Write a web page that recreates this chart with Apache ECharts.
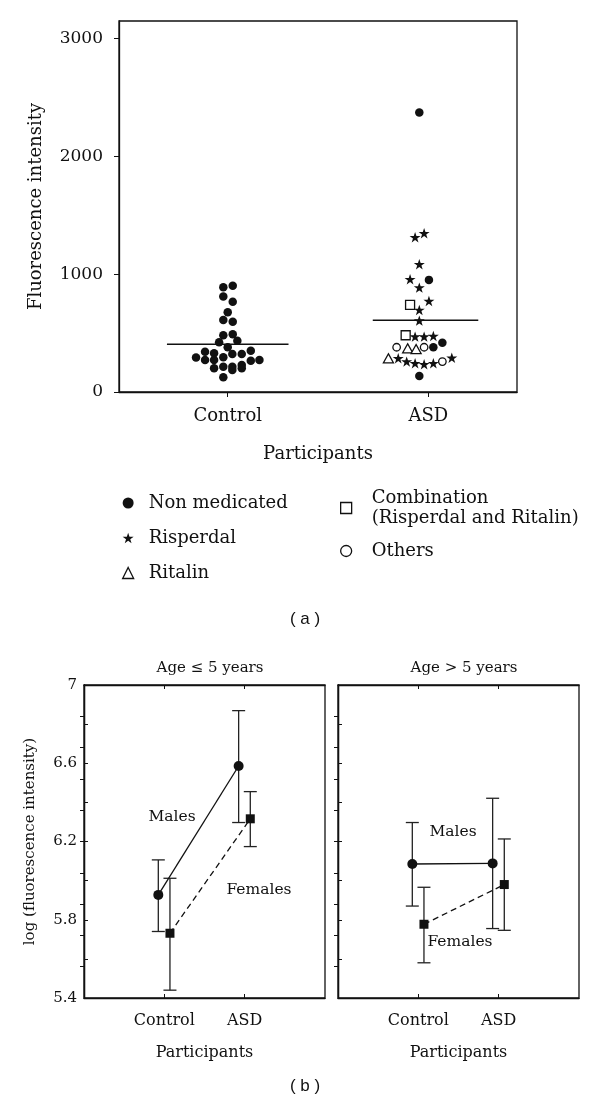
<!DOCTYPE html>
<html><head><meta charset="utf-8">
<script src="https://cdn.jsdelivr.net/npm/echarts@6/dist/echarts.min.js"></script>
<style>html,body{margin:0;padding:0;background:#fff}#c{width:600px;height:1106px}</style>
</head><body><div id="c"></div>
<script>
// ---------------- DATA ----------------
const categories = ['Control', 'ASD'];
const yTicksA = [0, 1000, 2000, 3000];

// Panel (a): Control group (all non medicated), values and beeswarm jitter (category units)
const controlValues = [903, 890, 810, 767, 677, 612, 597, 490, 482, 436, 422, 380,
  342, 328, 323, 323, 351, 292, 272, 272, 295, 266, 272, 201, 215, 215, 187, 229, 201, 125];
const controlJitter = [0.025, -0.022, -0.022, 0.025, 0, -0.022, 0.025, 0.025, -0.022, 0.048, -0.043, 0,
  -0.113, -0.068, 0.023, 0.070, 0.115, -0.158, -0.113, -0.068, -0.022, 0.115, 0.158,
  -0.068, -0.022, 0.023, 0.023, 0.070, 0.070, -0.022];

// Panel (a): ASD group by medication
const nonMedValues = [2373, 952, 419, 380, 136];
const nonMedJitter = [-0.045, 0.003, 0.070, 0.025, -0.045];
const risperdalValues = [1348, 1314, 1085, 957, 886, 773, 697, 606, 476, 470, 470, 291, 286, 258, 244, 244, 235];
const risperdalJitter = [-0.021, -0.066, -0.045, -0.091, -0.045, 0.003, -0.045, -0.045, 0.025, -0.021, -0.066, 0.117, -0.150, -0.108, -0.066, 0.025, -0.021];
const ritalinValues = [371, 365, 286];
const ritalinJitter = [-0.103, -0.061, -0.199];
const combinationValues = [739, 482];
const combinationJitter = [-0.091, -0.113];
const othersValues = [380, 380, 258];
const othersJitter = [-0.158, -0.021, 0.070];

const meanValues = [405, 609]; // Control, ASD

// Panel (b): log(fluorescence intensity), mean and error-bar limits [Control, ASD]
const yTicksB = [5.4, 5.8, 6.2, 6.6, 7];
const rightTicksB = [5.56, 5.72, 5.88, 6.04, 6.2, 6.36, 6.52, 6.68, 6.84];
const youngMalesMean = [5.927, 6.586];
const youngMalesLow = [5.74, 6.297];
const youngMalesHigh = [6.106, 6.869];
const youngFemalesMean = [5.731, 6.316];
const youngFemalesLow = [5.44, 6.174];
const youngFemalesHigh = [6.012, 6.455];
const olderMalesMean = [6.085, 6.088];
const olderMalesLow = [5.87, 5.755];
const olderMalesHigh = [6.297, 6.421];
const olderFemalesMean = [5.777, 5.98];
const olderFemalesLow = [5.58, 5.746];
const olderFemalesHigh = [5.966, 6.213];

// ---------------- STYLE ----------------
const FONT = 'DejaVu Serif';
const INK = '#111';
const STAR = 'path://M12,0 L14.9,8.6 L24,8.6 L16.6,14 L19.4,22.8 L12,17.4 L4.6,22.8 L7.4,14 L0,8.6 L9.1,8.6 Z';
const meanSpan = [[-0.303, 0.303], [-0.277, 0.249]];
const maleShift = -0.075, femaleShift = 0.07;

function swarm(catIdx, values, jitter) {
  return values.map((v, i) => [catIdx + 1 + jitter[i], v]);
}
const catLabel = v => categories[Math.round(v) - 1] || '';

const txt = (size) => ({ fontFamily: FONT, fontSize: size, color: INK });
const solid = { color: INK, opacity: 1 };
const hollow = { color: '#fff', borderColor: INK, borderWidth: 1.3, opacity: 1 };

function errorBars(xi, yi, shift, lows, highs) {
  return {
    type: 'custom', xAxisIndex: xi, yAxisIndex: yi, z: 2, silent: true,
    data: lows.map((lo, i) => [i + 1 + shift, lo, highs[i]]),
    renderItem(params, api) {
      const x = api.value(0);
      const lo = api.coord([x, api.value(1)]);
      const hi = api.coord([x, api.value(2)]);
      const hw = 6.5;
      const style = { stroke: '#222', lineWidth: 1.3 };
      return { type: 'group', children: [
        { type: 'line', shape: { x1: lo[0], y1: lo[1], x2: hi[0], y2: hi[1] }, style },
        { type: 'line', shape: { x1: lo[0] - hw, y1: lo[1], x2: lo[0] + hw, y2: lo[1] }, style },
        { type: 'line', shape: { x1: hi[0] - hw, y1: hi[1], x2: hi[0] + hw, y2: hi[1] }, style }
      ]};
    }
  };
}
function meanLine(xi, yi, shift, means, dashed, symbol, size) {
  return {
    type: 'line', xAxisIndex: xi, yAxisIndex: yi, z: 3, silent: true,
    data: means.map((m, i) => [i + 1 + shift, m]),
    symbol: symbol, symbolSize: size, showSymbol: true,
    itemStyle: { color: INK, opacity: 1 },
    lineStyle: { color: INK, width: 1.3, type: dashed ? [6, 4] : 'solid' }
  };
}

function bottomAxesX(grid) {
  return [
    { gridIndex: grid, type: 'value', min: 0, max: 3, position: 'bottom',
      axisLine: { show: true, lineStyle: { color: INK, width: 1.3 } },
      axisTick: { show: true, inside: true, length: 4, customValues: [1, 2], lineStyle: { color: INK } },
      axisLabel: { customValues: [1, 2], formatter: catLabel, margin: 15, ...txt(16) },
      splitLine: { show: false },
      name: 'Participants', nameLocation: 'middle', nameGap: 47, nameTextStyle: txt(16) },
    { gridIndex: grid, type: 'value', min: 0, max: 3, position: 'top',
      axisLine: { show: true, lineStyle: { color: INK, width: 1.3 } },
      axisTick: { show: true, inside: true, length: 4, customValues: [1, 2], lineStyle: { color: INK } },
      axisLabel: { show: false }, splitLine: { show: false } }
  ];
}
function bottomAxesY(grid, withLabels) {
  return [
    { gridIndex: grid, type: 'value', min: 5.4, max: 7, interval: 0.2, position: 'left',
      axisLine: { show: true, lineStyle: { color: INK, width: 1.3 } },
      axisTick: { show: true, inside: true, length: 4, lineStyle: { color: INK } },
      axisLabel: { show: withLabels, customValues: yTicksB, margin: 7, ...txt(15) },
      splitLine: { show: false },
      name: withLabels ? 'log (fluorescence intensity)' : '', nameLocation: 'middle', nameGap: 46,
      nameRotate: 90, nameTextStyle: txt(15) },
    { gridIndex: grid, type: 'value', min: 5.4, max: 7, position: 'right',
      axisLine: { show: true, lineStyle: { color: INK, width: 1.3 } },
      axisTick: { show: true, inside: true, length: 4, customValues: rightTicksB, lineStyle: { color: INK } },
      axisLabel: { show: false }, splitLine: { show: false } }
  ];
}

const chart = echarts.init(document.getElementById('c'), null, { renderer: 'canvas' });
const option = {
  backgroundColor: '#fff',
  animation: false,
  title: [
    { text: '( a )', left: 300, top: 606, textAlign: 'center',
      textStyle: { fontFamily: 'Liberation Sans', fontSize: 17, fontWeight: 'normal', color: INK } },
    { text: '( b )', left: 300, top: 1073, textAlign: 'center',
      textStyle: { fontFamily: 'Liberation Sans', fontSize: 17, fontWeight: 'normal', color: INK } },
    { text: 'Age \u2264 5 years', left: 205, top: 656, textAlign: 'center',
      textStyle: { ...txt(15), fontWeight: 'normal' } },
    { text: 'Age > 5 years', left: 459, top: 656, textAlign: 'center',
      textStyle: { ...txt(15), fontWeight: 'normal' } }
  ],
  legend: [
    { orient: 'vertical', left: 117, top: 488, itemGap: 15, itemWidth: 11, itemHeight: 11,
      selectedMode: false, textStyle: { ...txt(18), lineHeight: 20, padding: [0, 0, 0, 10] },
      data: [
        { name: 'Non medicated', icon: 'circle', itemStyle: solid },
        { name: 'Risperdal', icon: STAR, itemStyle: solid },
        { name: 'Ritalin', icon: 'triangle', itemStyle: hollow }
      ] },
    { orient: 'vertical', left: 335, top: 483, itemGap: 13, itemWidth: 11, itemHeight: 11,
      selectedMode: false, textStyle: { ...txt(18), lineHeight: 20, padding: [0, 0, 0, 15] },
      formatter: n => n === 'Combination (Risperdal and Ritalin)' ? 'Combination\n(Risperdal and Ritalin)' : n,
      data: [
        { name: 'Combination (Risperdal and Ritalin)', icon: 'rect', itemStyle: hollow },
        { name: 'Others', icon: 'circle', itemStyle: hollow }
      ] }
  ],
  grid: [
    { left: 119, top: 21, width: 398, height: 371, show: true, borderColor: INK, borderWidth: 1.3 },
    { left: 84, top: 685, width: 241, height: 313, show: true, borderColor: INK, borderWidth: 1.3 },
    { left: 338, top: 685, width: 241, height: 313, show: true, borderColor: INK, borderWidth: 1.3 }
  ],
  xAxis: [
    { gridIndex: 0, type: 'value', min: 0.458, max: 2.442,
      axisLine: { show: true, lineStyle: { color: INK, width: 1.3 } },
      axisTick: { show: true, inside: false, length: 5, customValues: [1, 2], lineStyle: { color: INK } },
      axisLabel: { customValues: [1, 2], formatter: catLabel, margin: 15, ...txt(18) },
      splitLine: { show: false },
      name: 'Participants', nameLocation: 'middle', nameGap: 53, nameTextStyle: txt(18) },
    ...bottomAxesX(1),
    ...bottomAxesX(2)
  ],
  yAxis: [
    { gridIndex: 0, type: 'value', min: 0, max: 3150,
      axisLine: { show: true, lineStyle: { color: INK, width: 1.3 } },
      axisTick: { show: true, inside: false, length: 5, customValues: yTicksA, lineStyle: { color: INK } },
      axisLabel: { customValues: yTicksA, formatter: v => String(v), margin: 16, ...txt(17) },
      splitLine: { show: false },
      name: 'Fluorescence intensity', nameLocation: 'middle', nameGap: 74, nameRotate: 90,
      nameTextStyle: txt(18) },
    ...bottomAxesY(1, true),
    ...bottomAxesY(2, false)
  ],
  series: [
    { name: 'Mean', type: 'line', xAxisIndex: 0, yAxisIndex: 0, symbol: 'none', silent: true,
      lineStyle: { color: INK, width: 1.5 }, z: 1,
      data: [[1 + meanSpan[0][0], meanValues[0]], [1 + meanSpan[0][1], meanValues[0]]] },
    { name: 'Mean ASD', type: 'line', xAxisIndex: 0, yAxisIndex: 0, symbol: 'none', silent: true,
      lineStyle: { color: INK, width: 1.5 }, z: 1,
      data: [[2 + meanSpan[1][0], meanValues[1]], [2 + meanSpan[1][1], meanValues[1]]] },
    { name: 'Non medicated', type: 'scatter', xAxisIndex: 0, yAxisIndex: 0, symbol: 'circle', symbolSize: 8.5,
      itemStyle: solid, data: swarm(0, controlValues, controlJitter) },
    { name: 'Non medicated', type: 'scatter', xAxisIndex: 0, yAxisIndex: 0, symbol: 'circle', symbolSize: 8.5,
      itemStyle: solid, data: swarm(1, nonMedValues, nonMedJitter) },
    { name: 'Risperdal', type: 'scatter', xAxisIndex: 0, yAxisIndex: 0, symbol: STAR, symbolSize: 11,
      symbolKeepAspect: true, itemStyle: solid, data: swarm(1, risperdalValues, risperdalJitter) },
    { name: 'Ritalin', type: 'scatter', xAxisIndex: 0, yAxisIndex: 0, symbol: 'triangle', symbolSize: [10, 9],
      itemStyle: hollow, data: swarm(1, ritalinValues, ritalinJitter) },
    { name: 'Combination (Risperdal and Ritalin)', type: 'scatter', xAxisIndex: 0, yAxisIndex: 0, symbol: 'rect', symbolSize: 9,
      itemStyle: hollow, data: swarm(1, combinationValues, combinationJitter) },
    { name: 'Others', type: 'scatter', xAxisIndex: 0, yAxisIndex: 0, symbol: 'circle', symbolSize: 7.5,
      itemStyle: hollow, data: swarm(1, othersValues, othersJitter) },

    // panel b left (age <= 5)
    errorBars(1, 1, maleShift, youngMalesLow, youngMalesHigh),
    errorBars(1, 1, femaleShift, youngFemalesLow, youngFemalesHigh),
    meanLine(1, 1, maleShift, youngMalesMean, false, 'circle', 10),
    meanLine(1, 1, femaleShift, youngFemalesMean, true, 'rect', 9),
    // panel b right (age > 5)
    errorBars(3, 3, maleShift, olderMalesLow, olderMalesHigh),
    errorBars(3, 3, femaleShift, olderFemalesLow, olderFemalesHigh),
    meanLine(3, 3, maleShift, olderMalesMean, false, 'circle', 10),
    meanLine(3, 3, femaleShift, olderFemalesMean, true, 'rect', 9)
  ],
  graphic: [
    { type: 'text', x: 172, y: 817, style: { text: 'Males', font: '15.5px "DejaVu Serif"', fill: INK, align: 'center', verticalAlign: 'middle' } },
    { type: 'text', x: 259, y: 890, style: { text: 'Females', font: '15.5px "DejaVu Serif"', fill: INK, align: 'center', verticalAlign: 'middle' } },
    { type: 'text', x: 453, y: 832, style: { text: 'Males', font: '15.5px "DejaVu Serif"', fill: INK, align: 'center', verticalAlign: 'middle' } },
    { type: 'text', x: 460, y: 942, style: { text: 'Females', font: '15.5px "DejaVu Serif"', fill: INK, align: 'center', verticalAlign: 'middle' } }
  ]
};
chart.setOption(option);
</script>
</body></html>
